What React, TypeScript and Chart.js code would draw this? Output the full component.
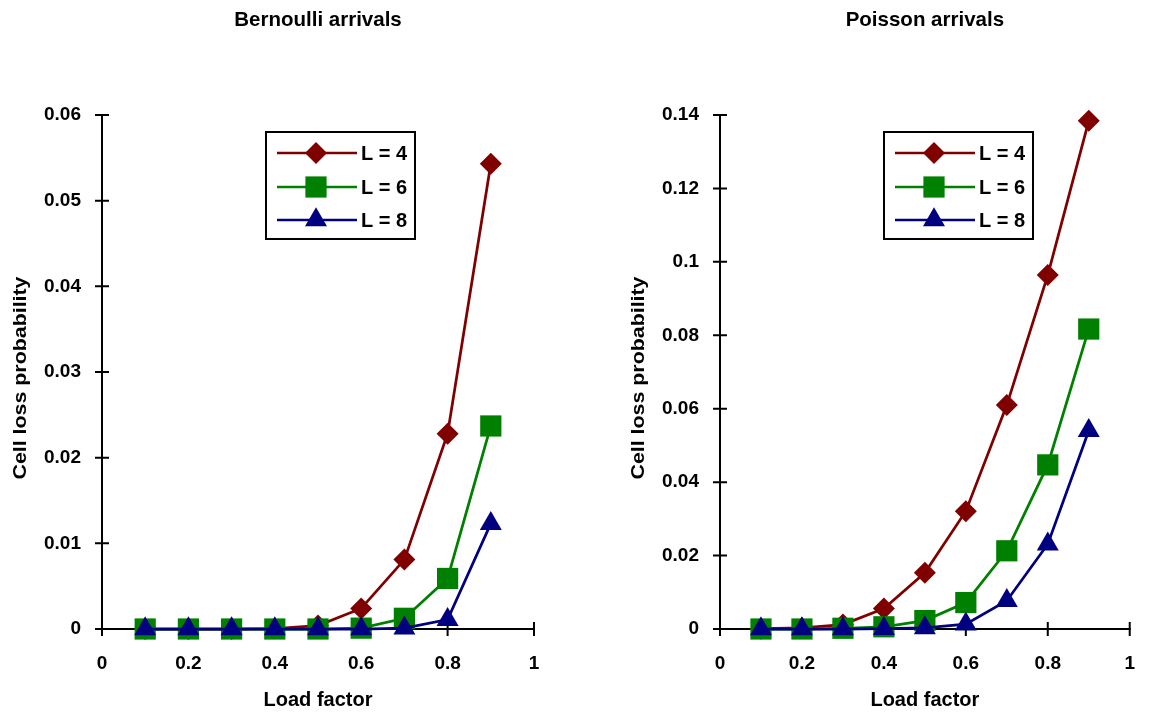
import React, { useEffect, useRef } from "react";
import { Chart, registerables } from "chart.js";

Chart.register(...registerables);

// ---------- data ----------
const loadFactors = [0.1, 0.2, 0.3, 0.4, 0.5, 0.6, 0.7, 0.8, 0.9];

const bernoulliL4 = [0, 0, 0, 0.00005, 0.0004, 0.0024, 0.0081, 0.0228, 0.0543];
const bernoulliL6 = [0, 0, 0, 0, 0, 0.0001, 0.00125, 0.0059, 0.0237];
const bernoulliL8 = [0, 0, 0, 0, 0, 0, 0.0001, 0.0011, 0.0123];

const poissonL4 = [0.0001, 0.0003, 0.0012, 0.0056, 0.0153, 0.0321, 0.061, 0.0964, 0.1384];
const poissonL6 = [0, 0, 0.0002, 0.0006, 0.0023, 0.0072, 0.0213, 0.0447, 0.0817];
const poissonL8 = [0, 0, 0, 0.0001, 0.0003, 0.0013, 0.0077, 0.0231, 0.054];

const xTickValues = [0, 0.2, 0.4, 0.6, 0.8, 1];
const bernoulliYMax = 0.06;
const bernoulliYStep = 0.01;
const poissonYMax = 0.14;
const poissonYStep = 0.02;

const seriesLabels = ["L = 4", "L = 6", "L = 8"];
const seriesColors = ["#800000", "#008000", "#000080"];
const seriesMarkers = ["rectRot", "rect", "triangle"];
const markerRadii = [11, 15, 12.7];

const chartTitles = ["Bernoulli arrivals", "Poisson arrivals"];
const xAxisTitle = "Load factor";
const yAxisTitle = "Cell loss probability";

// ---------- styling ----------
const FONT = "'Liberation Sans', Arial, sans-serif";
const W = 579;
const H = 714;

function fmt(v: number) {
  return String(parseFloat(Number(v).toFixed(4)));
}

function drawMarker(ctx: CanvasRenderingContext2D, kind: string, x: number, y: number, r: number) {
  ctx.beginPath();
  if (kind === "rectRot") {
    ctx.moveTo(x - r, y);
    ctx.lineTo(x, y - r);
    ctx.lineTo(x + r, y);
    ctx.lineTo(x, y + r);
  } else if (kind === "rect") {
    const s = Math.SQRT1_2 * r;
    ctx.rect(x - s, y - s, 2 * s, 2 * s);
  } else {
    ctx.moveTo(x, y - r);
    ctx.lineTo(x + r * Math.sin((2 * Math.PI) / 3), y - r * Math.cos((2 * Math.PI) / 3));
    ctx.lineTo(x + r * Math.sin((4 * Math.PI) / 3), y - r * Math.cos((4 * Math.PI) / 3));
  }
  ctx.closePath();
  ctx.fill();
}

function makeDecor(title: string) {
  return {
    id: "decor",
    beforeDatasetsDraw(chart: any) {
      const ctx = chart.ctx as CanvasRenderingContext2D;
      const { left, right, top, bottom } = chart.chartArea;
      const xs = chart.scales.x;
      const ys = chart.scales.y;
      ctx.save();
      ctx.strokeStyle = "#000";
      ctx.lineWidth = 2;
      ctx.lineCap = "butt";
      ctx.beginPath();
      ctx.moveTo(left, top);
      ctx.lineTo(left, bottom);
      ctx.moveTo(left - 1, bottom);
      ctx.lineTo(right + 1, bottom);
      ctx.stroke();
      ctx.beginPath();
      ys.ticks.forEach((t: any) => {
        const p = ys.getPixelForValue(t.value);
        ctx.moveTo(left - 7, p);
        ctx.lineTo(left + 7, p);
      });
      xs.ticks.forEach((t: any) => {
        const p = xs.getPixelForValue(t.value);
        ctx.moveTo(p, bottom - 7);
        ctx.lineTo(p, bottom + 7);
      });
      ctx.stroke();
      ctx.restore();
    },
    afterDraw(chart: any) {
      const ctx = chart.ctx as CanvasRenderingContext2D;
      const { left, right, top, bottom } = chart.chartArea;
      const cx = (left + right) / 2;
      ctx.save();
      ctx.fillStyle = "#000";
      ctx.textAlign = "center";
      ctx.textBaseline = "middle";
      ctx.font = `bold 20.5px ${FONT}`;
      ctx.fillText(title, cx, 20);
      ctx.font = `bold 20px ${FONT}`;
      ctx.fillText(xAxisTitle, cx, 700);
      // y axis title
      ctx.save();
      ctx.translate(left - 81, (top + bottom) / 2 + 6);
      ctx.rotate(-Math.PI / 2);
      ctx.font = `bold 19px ${FONT}`;
      const wText = ctx.measureText(yAxisTitle).width;
      ctx.scale(203 / wText, 1);
      ctx.fillText(yAxisTitle, 0, 0);
      ctx.restore();

      // legend
      const bx = left + 164;
      const by = 132;
      ctx.lineWidth = 2;
      ctx.strokeStyle = "#000";
      ctx.strokeRect(bx, by, 149, 107);
      const rows = [153, 187, 220];
      seriesLabels.forEach((lab, i) => {
        const y = rows[i];
        ctx.strokeStyle = seriesColors[i];
        ctx.lineWidth = 2.5;
        ctx.beginPath();
        ctx.moveTo(left + 175, y);
        ctx.lineTo(left + 255, y);
        ctx.stroke();
        ctx.fillStyle = seriesColors[i];
        drawMarker(ctx, seriesMarkers[i], left + 214, y, markerRadii[i]);
        ctx.fillStyle = "#000";
        ctx.textAlign = "left";
        ctx.font = `bold 20px ${FONT}`;
        ctx.fillText(lab, left + 259, y + 1);
      });
      ctx.restore();
    },
  };
}

function buildConfig(series: number[][], yMax: number, yStep: number, rightPad: number, yWidth: number, title: string): any {
  return {
    type: "line",
    data: {
      labels: loadFactors,
      datasets: series.map((vals, i) => ({
        label: seriesLabels[i],
        data: loadFactors.map((x, j) => ({ x, y: vals[j] })),
        borderColor: seriesColors[i],
        backgroundColor: seriesColors[i],
        borderWidth: 2.75,
        pointStyle: seriesMarkers[i],
        pointRadius: markerRadii[i],
        pointBorderWidth: 0,
        pointBackgroundColor: seriesColors[i],
        pointBorderColor: seriesColors[i],
        tension: 0,
        order: 2 - i,
        clip: false,
      })),
    },
    options: {
      responsive: false,
      animation: false,
      devicePixelRatio: 1,
      layout: { padding: { top: 115, right: rightPad, bottom: 0, left: 0 } },
      plugins: {
        legend: { display: false },
        title: { display: false },
        tooltip: { enabled: false },
      },
      events: [],
      scales: {
        x: {
          type: "linear",
          min: 0,
          max: 1,
          afterBuildTicks: (scale: any) => {
            scale.ticks = xTickValues.map((v) => ({ value: v }));
          },
          afterFit: (scale: any) => {
            scale.height = 85;
          },
          grid: { display: false, drawTicks: false },
          border: { display: false },
          ticks: {
            autoSkip: false,
            maxRotation: 0,
            padding: 23,
            color: "#000",
            font: { family: FONT, size: 19, weight: "bold" },
            callback: (v: any) => fmt(v),
          },
        },
        y: {
          type: "linear",
          min: 0,
          max: yMax,
          ticks: {
            stepSize: yStep,
            autoSkip: false,
            padding: 21,
            color: "#000",
            font: { family: FONT, size: 19, weight: "bold" },
            callback: (v: any) => fmt(v),
          },
          afterFit: (scale: any) => {
            scale.width = yWidth;
          },
          grid: { display: false, drawTicks: false },
          border: { display: false },
        },
      },
    },
    plugins: [makeDecor(title)],
  };
}

function Panel(props: { config: any; left: number }) {
  const ref = useRef<HTMLCanvasElement | null>(null);
  useEffect(() => {
    if (!ref.current) return;
    const chart = new Chart(ref.current, props.config);
    return () => chart.destroy();
  }, []);
  return (
    <canvas
      ref={ref}
      width={W}
      height={H}
      style={{ position: "absolute", left: props.left, top: 0, width: W, height: H, display: "block" }}
    />
  );
}

export default function App() {
  const leftCfg = buildConfig([bernoulliL4, bernoulliL6, bernoulliL8], bernoulliYMax, bernoulliYStep, 45, 102, chartTitles[0]);
  const rightCfg = buildConfig([poissonL4, poissonL6, poissonL8], poissonYMax, poissonYStep, 10, 141, chartTitles[1]);
  return (
    <div style={{ position: "fixed", left: 0, top: 0, width: 1158, height: 714, background: "#fff", overflow: "hidden" }}>
      <Panel config={leftCfg} left={0} />
      <Panel config={rightCfg} left={579} />
    </div>
  );
}
